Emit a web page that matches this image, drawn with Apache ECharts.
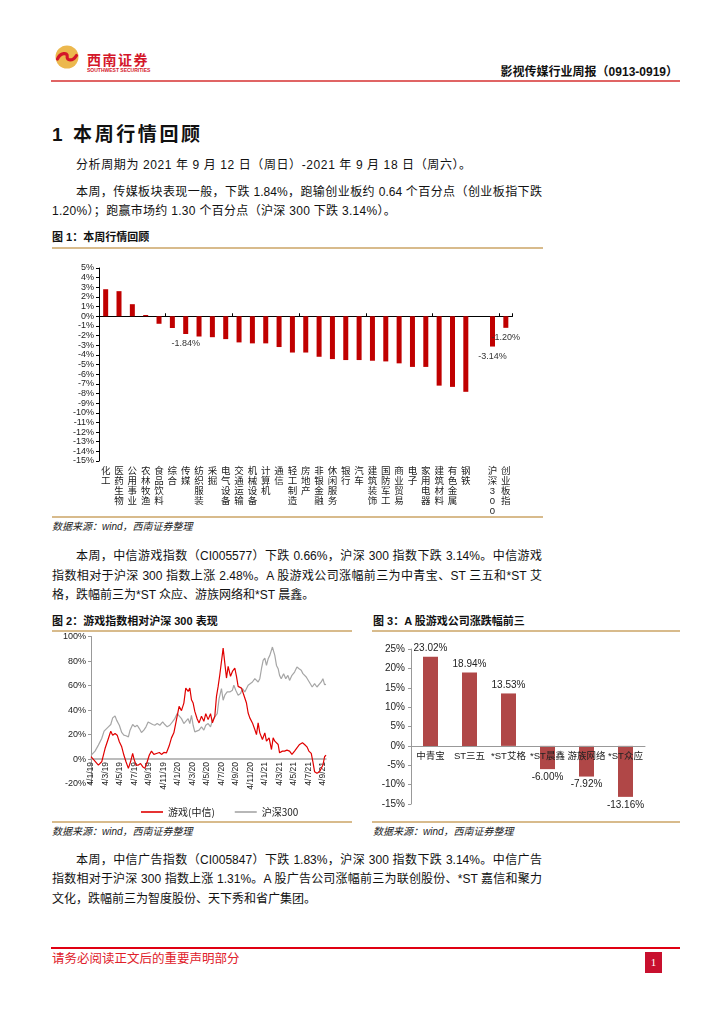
<!DOCTYPE html>
<html><head><meta charset="utf-8">
<script src="https://cdn.jsdelivr.net/npm/echarts@6/dist/echarts.min.js"></script>
<style>
body{margin:0;width:724px;height:1024px;background:#fff;position:relative;overflow:hidden;font-family:"Liberation Sans","Noto Sans CJK SC",sans-serif;color:#111;}
.abs{position:absolute;}
.ln{position:absolute;left:52px;width:490px;font-size:12px;line-height:16px;height:16px;white-space:nowrap;}
.just{text-align:justify;text-align-last:justify;}
.ind{padding-left:24px;box-sizing:border-box;}
.gold{position:absolute;height:2px;background:#d8bb8c;}
.ftitle{position:absolute;font-size:11px;font-weight:bold;line-height:14px;white-space:nowrap;}
.src{position:absolute;font-size:10px;font-style:italic;line-height:12px;color:#222;white-space:nowrap;}
</style></head><body>

<!-- header -->
<svg class="abs" style="left:55px;top:45px" width="24" height="24" viewBox="0 0 24 24">
  <circle cx="12" cy="12" r="11.5" fill="#ecb84e"/>
  <path d="M2.5 14 C5 7.5 13 7 12.2 11.5 C11.4 15.5 17.5 17 21.5 10.5" stroke="#d4172a" stroke-width="3.2" fill="none" stroke-linecap="round"/>
</svg>
<div class="abs" style="left:87px;top:50px;font-size:14px;font-weight:bold;color:#d4172a;letter-spacing:1.5px;font-family:'Noto Sans CJK SC';line-height:18px;">西南证券</div>
<div class="abs" style="left:87px;top:67px;font-size:5px;font-weight:bold;color:#d4172a;line-height:6px;white-space:nowrap;">SOUTHWEST SECURITIES</div>
<div class="abs" style="right:46px;top:64px;font-size:12px;font-weight:bold;line-height:16px;white-space:nowrap;">影视传媒行业周报（0913-0919）</div>
<div class="abs" style="left:51px;top:80px;width:629px;height:2px;background:#e06464;"></div>

<div class="abs" style="left:52px;top:123px;font-size:19px;font-weight:bold;line-height:24px;letter-spacing:2.6px;white-space:nowrap;">1 本周行情回顾</div>

<div class="ln ind" style="top:157px;letter-spacing:0.6px;">分析周期为 2021 年 9 月 12 日（周日）-2021 年 9 月 18 日（周六）。</div>
<div class="ln ind just" style="top:184px;">本周，传媒板块表现一般，下跌 1.84%，跑输创业板约 0.64 个百分点（创业板指下跌</div>
<div class="ln" style="top:203px;letter-spacing:0.3px;">1.20%）；跑赢市场约 1.30 个百分点（沪深 300 下跌 3.14%）。</div>

<div class="ftitle" style="left:52px;top:230px;">图 1：本周行情回顾</div>
<div class="gold" style="left:52px;top:247px;width:491px;"></div>
<div id="c1" class="abs" style="left:52px;top:249px;width:491px;height:267px;"></div>
<div class="gold" style="left:52px;top:516px;width:491px;"></div>
<div class="src" style="left:52px;top:521px;">数据来源：wind，西南证券整理</div>

<div class="ln ind just" style="top:548px;">本周，中信游戏指数（CI005577）下跌 0.66%，沪深 300 指数下跌 3.14%。中信游戏</div>
<div class="ln just" style="top:568px;">指数相对于沪深 300 指数上涨 2.48%。A 股游戏公司涨幅前三为中青宝、ST 三五和*ST 艾</div>
<div class="ln" style="top:587px;">格，跌幅前三为*ST 众应、游族网络和*ST 晨鑫。</div>

<div class="ftitle" style="left:52px;top:614px;">图 2：游戏指数相对沪深 300 表现</div>
<div class="ftitle" style="left:373px;top:614px;">图 3：A 股游戏公司涨跌幅前三</div>
<div class="gold" style="left:52px;top:630px;width:300px;"></div>
<div class="gold" style="left:372px;top:630px;width:308px;"></div>
<div id="c2" class="abs" style="left:52px;top:632px;width:300px;height:189px;"></div>
<div id="c3" class="abs" style="left:372px;top:632px;width:308px;height:189px;"></div>
<div class="gold" style="left:52px;top:821px;width:300px;"></div>
<div class="gold" style="left:372px;top:821px;width:308px;"></div>
<div class="src" style="left:52px;top:826px;">数据来源：wind，西南证券整理</div>
<div class="src" style="left:373px;top:826px;">数据来源：wind，西南证券整理</div>

<div class="ln ind just" style="top:852px;">本周，中信广告指数（CI005847）下跌 1.83%，沪深 300 指数下跌 3.14%。中信广告</div>
<div class="ln just" style="top:871px;">指数相对于沪深 300 指数上涨 1.31%。A 股广告公司涨幅前三为联创股份、*ST 嘉信和聚力</div>
<div class="ln" style="top:891px;">文化，跌幅前三为智度股份、天下秀和省广集团。</div>

<!-- footer -->
<div class="abs" style="left:51px;top:947px;width:629px;height:1.5px;background:#e00012;"></div>
<div class="abs" style="left:52px;top:951px;font-size:12.5px;color:#e0202a;line-height:16px;white-space:nowrap;">请务必阅读正文后的重要声明部分</div>
<div class="abs" style="left:645px;top:952px;width:17px;height:21px;background:#c8102e;color:#fff;font-family:'Liberation Serif',serif;font-size:11px;line-height:21px;text-align:center;">1</div>

<script>
// ---------- Chart 1 data ----------
const industries = ['化工','医药生物','公用事业','农林牧渔','食品饮料','综合','传媒','纺织服装','采掘','电气设备','交通运输','机械设备','计算机','通信','轻工制造','房地产','非银金融','休闲服务','银行','汽车','建筑装饰','国防军工','商业贸易','电子','家用电器','建筑材料','有色金属','钢铁','','沪深300','创业板指'];
const weeklyChange = [2.8,2.6,1.25,0.13,-0.78,-1.22,-1.84,-2.1,-2.17,-2.37,-2.71,-2.81,-2.81,-3.19,-3.76,-3.76,-4.2,-4.44,-4.54,-4.54,-4.61,-4.68,-4.88,-5.25,-5.25,-7.19,-7.32,-7.83,null,-3.14,-1.20];
const labeledCats = ['传媒','沪深300','创业板指'];

// ---------- Chart 2 data (days since 2019-01-04, cumulative %) ----------
const gameDays = [0,31,45,59,73,83,91,101,110,119,129,138,147,157,166,175,180,189,199,208,217,226,236,245,254,264,275,287,296,306,317,328,338,348,359,370,380,390,398,408,415,422,429,436,446,454,464,474,482,492,502,510,520,527,534,541,548,555,562,569,576,586,594,604,611,618,625,632,639,646,653,660,667,678,688,695,702,709,720,730,737,748,758,765,772,779,786,792,804,813,823,834,844,855,865,876,888,897,907,915,925,932,939,949,960,967,974,981,987];
const gameValues = [2,-4.9,-2.2,8.6,16.8,22.8,19.5,20.9,19.5,14.1,10,3.3,-2.2,-7.6,-2.2,4.6,0.5,-4.9,-4.9,-3.6,-6.2,-7.6,-2.2,3.3,6.5,3.8,4.6,5.4,3.8,5.4,5.1,10.6,17.3,21.4,32.2,43,39.5,45.7,57.9,55.2,57.9,48.4,45.7,38.9,32.7,29.5,34.9,30.8,37.1,32.2,37.1,29.5,34.9,51.2,59.3,68.8,70.2,90.5,78.3,66.1,75.6,67.5,71.5,74.3,67.5,59.3,60.7,57.9,53.9,55.2,45.7,37.6,33.6,29.5,24.1,20,29.5,21.4,16,21.4,14.6,17.3,7.8,17.3,14.6,16,11.9,5.1,6.5,6.5,7.3,6.5,3.8,6.5,9.2,11.9,13.3,11.9,10,6.5,4.6,-2.2,-10.3,-11.6,-10.3,-11.6,-4.9,1.9,3.2];
const hsDays = [0,17,31,45,55,63,73,83,91,101,108,119,129,138,147,157,164,175,185,194,203,212,222,231,240,247,259,268,278,289,301,310,320,331,342,352,362,370,380,390,398,408,415,422,429,436,443,454,464,474,482,492,502,510,520,530,538,548,555,562,572,583,594,600,608,618,628,636,646,653,660,667,678,688,695,702,709,716,723,730,737,744,751,762,772,779,786,792,799,809,818,827,834,844,855,865,874,883,890,897,904,911,921,929,939,949,957,967,974,981,987];
const hsValues = [3,6.5,11.4,16.8,22.8,22.2,26.3,28.2,33.6,35.2,31.6,27.6,21.7,19.5,19,18.1,23.6,28.2,26.3,27.6,24.9,21.7,23.6,26.3,30.3,30.8,28.2,27.6,29,27.6,30.3,28.2,26.3,27.6,30.3,33,37.1,37.1,33,29,30.3,33,29,35.7,27.6,22.2,21.7,23.6,26.3,23.6,27.6,29,26.3,31.6,34.4,37.1,49.3,57.5,48,52.1,54.8,54.8,56.2,60.2,56.2,52.1,53.5,57.5,54.8,56.2,60.2,61.5,62.9,65.6,67,62.9,65.6,73.7,80.5,82.4,76.4,81.8,84.6,91.4,84.6,76.4,73.7,68.3,65.6,69.7,65.6,68.3,64.2,68.3,71,75.1,73.7,72.4,69.7,71,67,68.3,61.5,58.8,61.5,58.8,60.2,62.9,65.6,60.7,61];
const dateTicks = ['4/1/19','4/3/19','4/5/19','4/7/19','4/9/19','4/11/19','4/1/20','4/3/20','4/5/20','4/7/20','4/9/20','4/11/20','4/1/21','4/3/21','4/5/21','4/7/21','4/9/21'];
const seriesNames = ['游戏(中信)','沪深300'];

// ---------- Chart 3 data ----------
const companies = ['中青宝','ST三五','*ST艾格','*ST晨鑫','游族网络','*ST众应'];
const companyChange = [23.02,18.94,13.53,-6.00,-7.92,-13.16];

const FONT = 'Liberation Sans, Noto Sans CJK SC, sans-serif';

// ---------- Chart 1 ----------
const c1 = echarts.init(document.getElementById('c1'));
c1.setOption({
  animation:false,
  textStyle:{fontFamily:FONT},
  grid:{left:47,top:19,width:413.5,height:197,containLabel:false},
  xAxis:[{
    type:'category', data:industries, position:'bottom',
    axisLine:{show:false,onZero:false}, axisTick:{show:false},
    axisLabel:{interval:0, margin:5, fontSize:9.5, lineHeight:10, color:'#222', verticalAlign:'top',
      formatter:v=>v.split('').join('\n')}
  },{
    type:'category', data:industries, position:'bottom',
    axisLine:{show:true,onZero:true,lineStyle:{color:'#000',width:1}},
    axisTick:{show:true,inside:true,length:3,lineStyle:{color:'#000'}},
    axisLabel:{show:false}
  }],
  yAxis:{type:'value',min:-15,max:5,interval:1,
    axisLine:{show:true,lineStyle:{color:'#000'}},
    axisTick:{show:true,length:3,lineStyle:{color:'#000'}},
    splitLine:{show:false},
    axisLabel:{formatter:v=>v+'%',fontSize:9,color:'#222',margin:5}},
  series:[{
    type:'bar', xAxisIndex:0, barWidth:5, itemStyle:{color:'#c00000'},
    data:weeklyChange.map((v,i)=>labeledCats.includes(industries[i]) ?
      {value:v,label:{show:true,position:'bottom',distance:5,fontSize:9,color:'#333',formatter:p=>p.value.toFixed(2)+'%'}} : v)
  }]
});

// ---------- Chart 2 ----------
const STEP = 60.875;
const G2 = {top:4, height:147.6, ymin:-20, ymax:100};
const c2 = echarts.init(document.getElementById('c2'));
c2.setOption({
  animation:false,
  textStyle:{fontFamily:FONT},
  grid:{left:39,top:G2.top,width:235,height:G2.height,containLabel:false},
  legend:{data:seriesNames,left:84,top:170,itemWidth:22,itemHeight:1.6,itemGap:20,icon:'rect',
    textStyle:{fontSize:10,color:'#222',fontFamily:'Noto Sans CJK SC'}},
  xAxis:{type:'value',min:0,max:987,interval:STEP,
    offset:-G2.height*(0-G2.ymin)/(G2.ymax-G2.ymin),
    axisLine:{show:true,onZero:false,lineStyle:{color:'#a6a6a6',width:1.5}},
    axisTick:{show:false}, splitLine:{show:false},
    axisLabel:{rotate:90,fontSize:8.5,color:'#222',margin:3,
      formatter:v=>{const i=Math.round(v/STEP);return (Math.abs(v-i*STEP)<0.5&&dateTicks[i])?dateTicks[i]:'';}}},
  yAxis:{type:'value',min:G2.ymin,max:G2.ymax,interval:20,
    axisLine:{show:true,onZero:false,lineStyle:{color:'#999'}},
    axisTick:{show:true,length:3,lineStyle:{color:'#999'}},
    splitLine:{show:false},
    axisLabel:{formatter:v=>v+'%',fontSize:9,color:'#222',margin:5}},
  series:[
    {name:seriesNames[1],type:'line',showSymbol:false,color:'#a6a6a6',lineStyle:{width:1.2,color:'#a6a6a6'},
      data:hsDays.map((d,i)=>[d,hsValues[i]])},
    {name:seriesNames[0],type:'line',showSymbol:false,color:'#e00000',lineStyle:{width:1.2,color:'#e00000'},
      data:gameDays.map((d,i)=>[d,gameValues[i]])}
  ]
});

// ---------- Chart 3 ----------
const G3 = {top:17, height:155, ymin:-15, ymax:25};
const c3 = echarts.init(document.getElementById('c3'));
c3.setOption({
  animation:false,
  textStyle:{fontFamily:FONT},
  grid:{left:39,top:G3.top,width:234,height:G3.height,containLabel:false},
  xAxis:{type:'category',data:companies,z:10,
    offset:-G3.height*(0-G3.ymin)/(G3.ymax-G3.ymin),
    axisLine:{show:true,onZero:false,lineStyle:{color:'#999'}},
    axisTick:{show:false},
    axisLabel:{interval:0,fontSize:9.5,color:'#222',margin:6}},
  yAxis:{type:'value',min:G3.ymin,max:G3.ymax,interval:5,
    axisLine:{show:true,lineStyle:{color:'#999'}},
    axisTick:{show:true,length:3,lineStyle:{color:'#999'}},
    splitLine:{show:false},
    axisLabel:{formatter:v=>v+'%',fontSize:10,color:'#222',margin:6}},
  series:[{type:'bar',barWidth:15,itemStyle:{color:'#b04747'},
    data:companyChange.map(v=>({value:v,label:{show:true,position:v>=0?'top':'bottom',distance:3,fontSize:10,color:'#222',
      formatter:p=>p.value.toFixed(2)+'%'}}))}]
});
</script>
</body></html>
